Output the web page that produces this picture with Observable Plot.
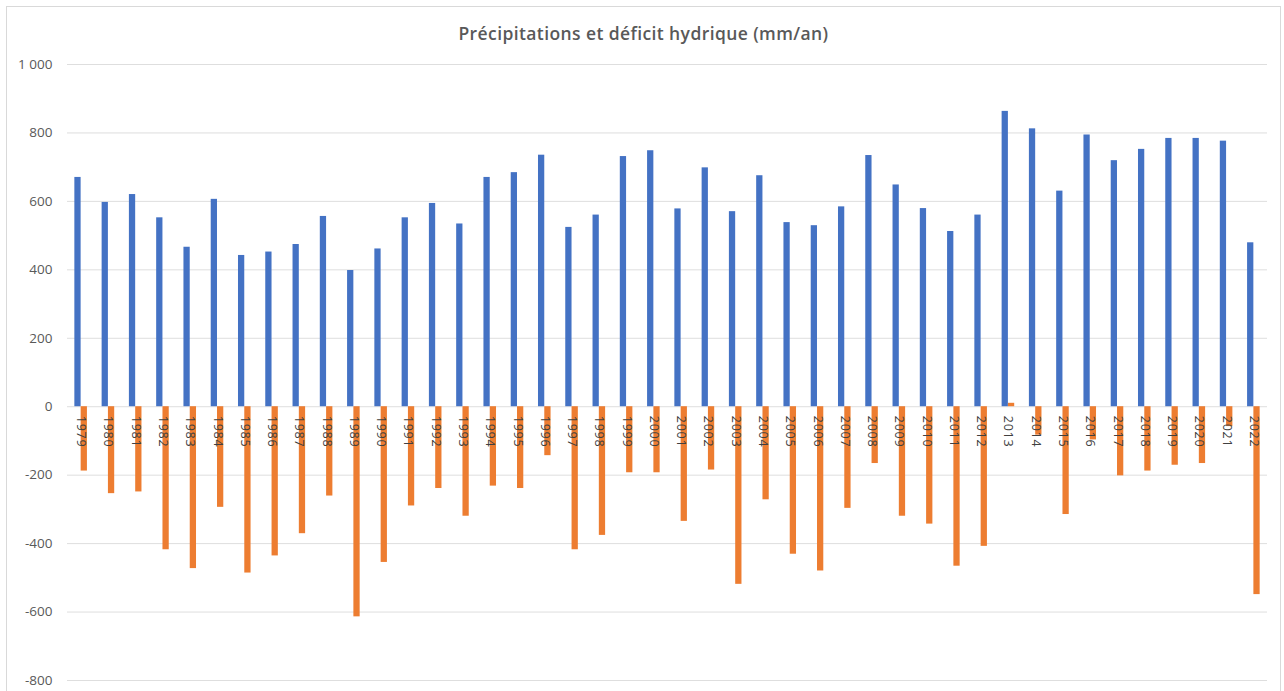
<!DOCTYPE html>
<html>
<head>
<meta charset="utf-8">
<script src="https://cdn.jsdelivr.net/npm/d3@7"></script>
<script src="https://cdn.jsdelivr.net/npm/@observablehq/plot@0.6"></script>
<style>
  html, body { margin: 0; padding: 0; background: #fff; }
  #frame { position: absolute; left: 6px; top: 6px; width: 1273px; height: 700px; border: 1px solid #d9d9d9; border-bottom: none; background: #fff; }
  #title { height: 40px; box-sizing: border-box; padding-top: 16px; line-height: 20px; text-align: center; font-family: "Open Sans", sans-serif; font-weight: 600; font-size: 17.5px; letter-spacing: 0.4px; color: #595959; }
</style>
</head>
<body>
<div id="frame">
  <div id="title">Précipitations et déficit hydrique (mm/an)</div>
  <div id="chart"></div>
</div>
<script>
const years = [1979,1980,1981,1982,1983,1984,1985,1986,1987,1988,1989,1990,1991,1992,1993,1994,1995,1996,1997,1998,1999,2000,2001,2002,2003,2004,2005,2006,2007,2008,2009,2010,2011,2012,2013,2014,2015,2016,2017,2018,2019,2020,2021,2022];
const precipitations = [670,597,620,552,466,606,442,452,474,556,398,461,552,594,534,670,684,735,524,560,731,748,578,698,570,675,538,529,584,734,648,579,512,560,863,812,630,794,719,752,784,784,776,479];
const deficit = [-188,-254,-249,-418,-473,-294,-486,-436,-371,-261,-614,-455,-290,-239,-320,-232,-239,-143,-418,-376,-193,-193,-335,-185,-519,-272,-431,-480,-297,-166,-320,-343,-466,-408,10,-83,-315,-97,-202,-188,-171,-166,-58,-549];
const yTicks = [-800,-600,-400,-200,0,200,400,600,800,1000];

const precipRows = years.map((y, i) => ({year: String(y), value: precipitations[i]}));
const deficitRows = years.map((y, i) => ({year: String(y), value: deficit[i]}));
const yearRows = years.map(y => ({year: String(y)}));

const fmt = d => Math.abs(d) >= 1000 ? (d < 0 ? "-" : "") + Math.floor(Math.abs(d) / 1000) + " " + String(Math.abs(d) % 1000).padStart(3, "0") : String(d);

const chart = Plot.plot({
  width: 1273,
  height: 644,
  marginLeft: 60,
  marginRight: 13,
  marginTop: 17,
  marginBottom: 11,
  style: {fontFamily: "'Open Sans', sans-serif", color: "#595959", background: "transparent", overflow: "visible"},
  x: {domain: years.map(String), paddingInner: 0.77, paddingOuter: 0.385, round: false, axis: null},
  y: {domain: [-800, 1000], ticks: yTicks, tickSize: 0, tickPadding: 15, tickFormat: fmt, label: null},
  marks: [
    Plot.ruleY(yTicks, {stroke: "#dedede", strokeWidth: 1}),
    Plot.barY(precipRows, {x: "year", y: "value", fill: "#4472C4", dx: -3.15}),
    Plot.barY(deficitRows, {x: "year", y: "value", fill: "#ED7D31", dx: 3.15}),
    Plot.text(yearRows, {x: "year", y: () => 0, text: "year", rotate: 90, textAnchor: "start", dy: 9, fontSize: 12.5, fill: "#404040"})
  ]
});
chart.querySelectorAll("g[aria-label='y-axis tick label'] text, g[aria-label='y-axis'] text").forEach(t => t.style.fontSize = "13.5px");
chart.querySelectorAll("g[aria-label='text'] text").forEach(t => t.style.letterSpacing = "0.8px");
document.getElementById("chart").appendChild(chart);
</script>
</body>
</html>
